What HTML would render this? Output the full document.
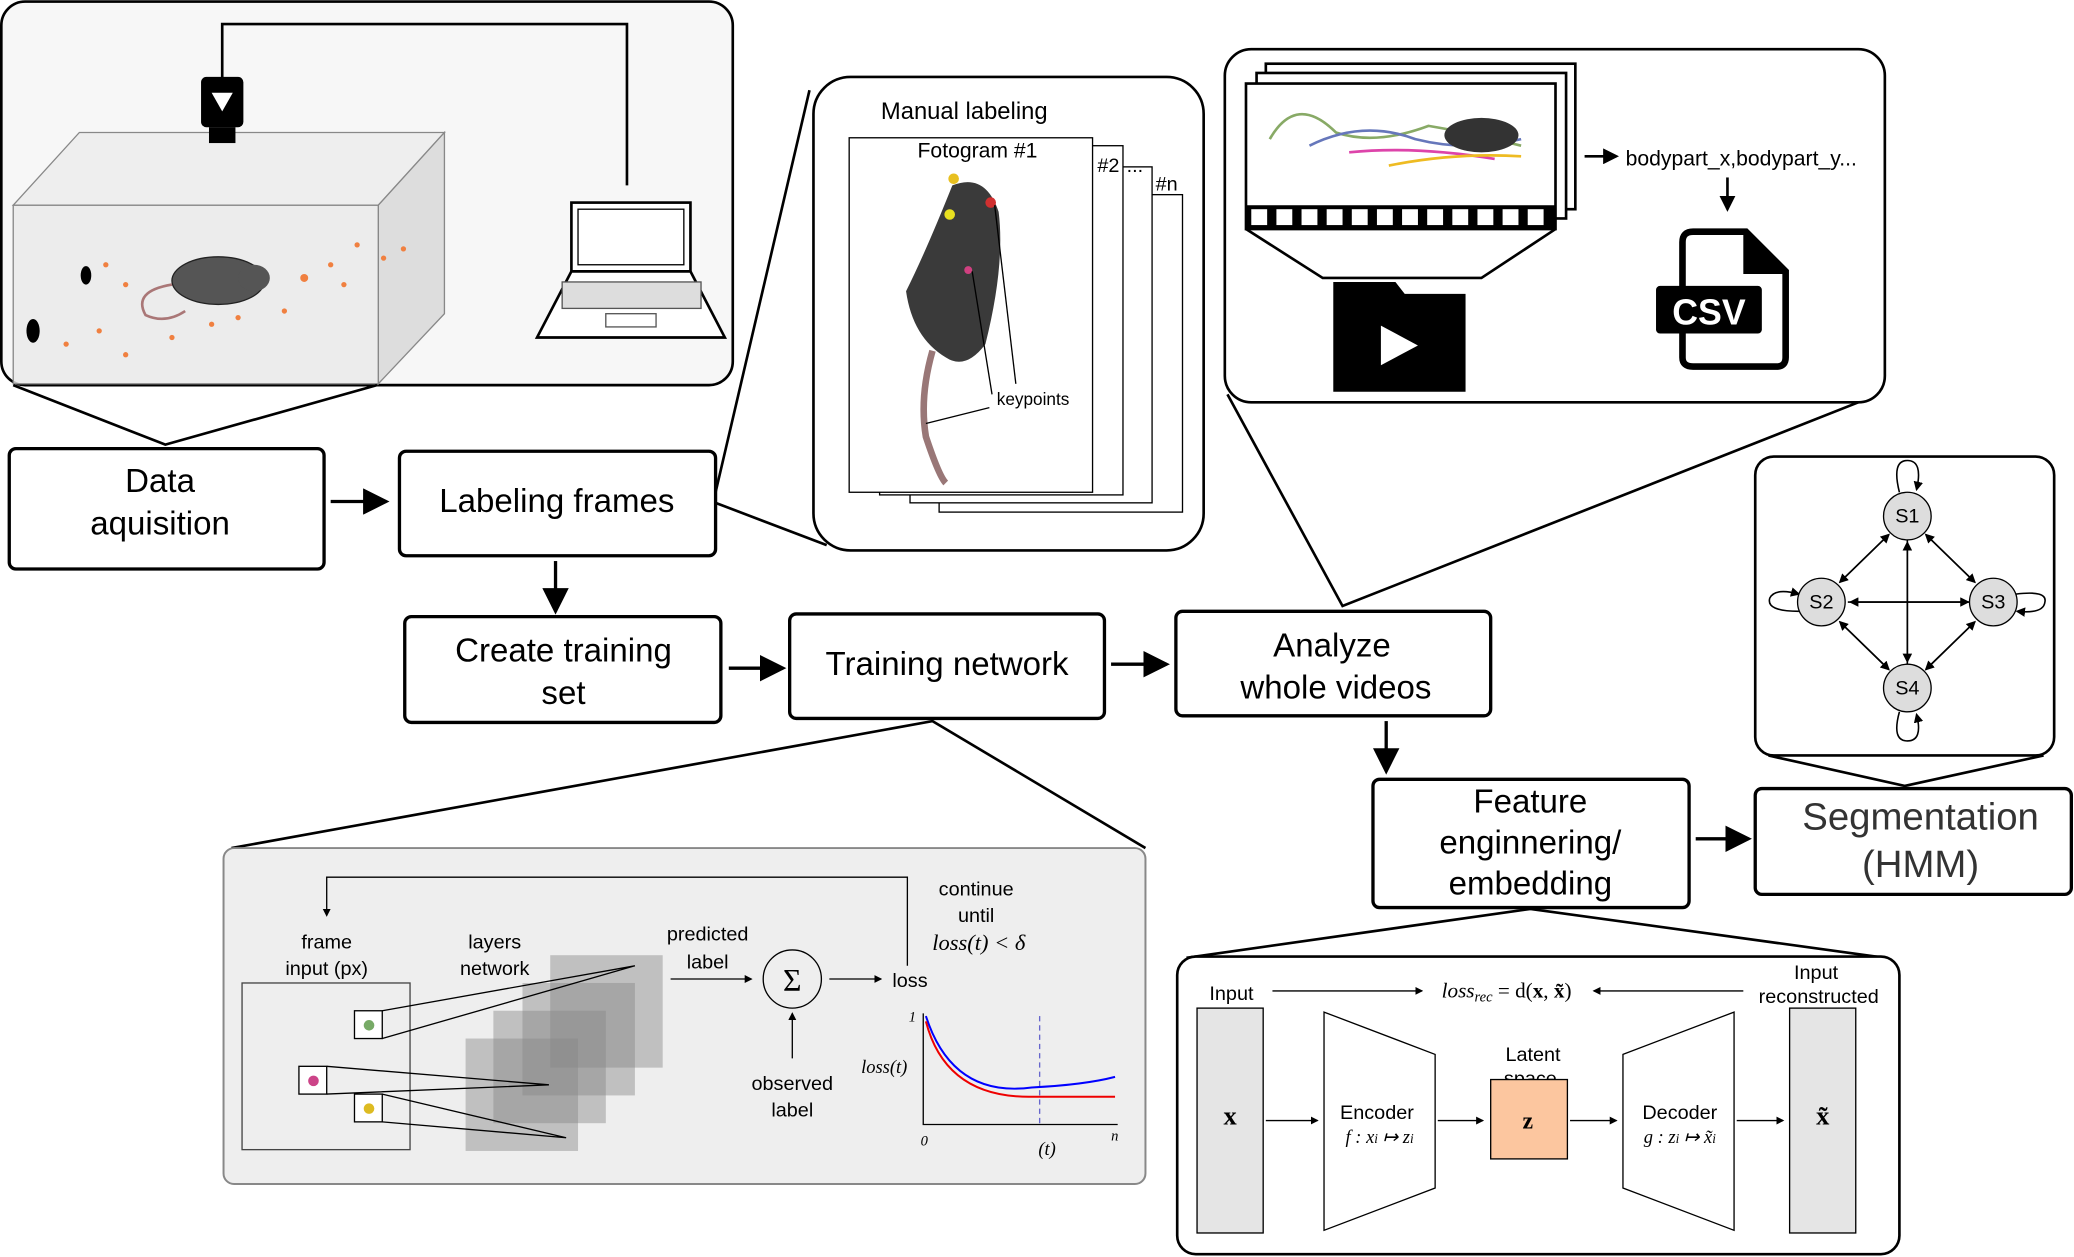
<!DOCTYPE html>
<html><head><meta charset="utf-8"><style>
html,body{margin:0;padding:0;background:#fff}
svg{display:block}
text{font-family:"Liberation Sans","DejaVu Sans",sans-serif}
.b{fill:#fff;stroke:#000;stroke-width:2.5}
.t{font-size:25px;text-anchor:middle}
.s{font-size:15px;text-anchor:middle}
.m{font-family:"Liberation Serif",serif;font-style:italic}
</style></head><body>
<svg width="2074" height="1257" viewBox="0 0 1568 950" xmlns="http://www.w3.org/2000/svg">
<defs><marker id="a" markerWidth="8" markerHeight="8" refX="7" refY="4" orient="auto"><path d="M0,0 L8,4 L0,8z"/></marker>
<marker id="sa" markerWidth="6" markerHeight="6" refX="5" refY="3" orient="auto"><path d="M0,0 L6,3 L0,6z"/></marker></defs>

<!-- top-left panel -->
<rect x="1" y="1" width="553" height="290" rx="18" fill="#f7f7f7" stroke="#000" stroke-width="2"/>
<polyline points="168,60 168,18 474,18 474,140" fill="none" stroke="#000" stroke-width="2"/>
<path d="M10,155 L60,100 L336,100 L286,155z" fill="#eee" stroke="#888"/>
<path d="M286,155 L336,100 L336,237 L286,290z" fill="#ddd" stroke="#888"/>
<rect x="10" y="155" width="276" height="135" fill="#e9e9e9" stroke="#888" fill-opacity="0.8"/>
<rect x="152" y="58" width="32" height="38" rx="4" fill="#000"/>
<path d="M160,70 L176,70 L168,84z" fill="#fff"/>
<rect x="158" y="96" width="20" height="12" fill="#000"/>
<ellipse cx="65" cy="208" rx="4" ry="7" fill="#000"/><ellipse cx="25" cy="250" rx="5" ry="9" fill="#000"/>
<g fill="#f08040"><circle cx="80" cy="200" r="2"/><circle cx="95" cy="215" r="2"/><circle cx="230" cy="210" r="3"/><circle cx="250" cy="200" r="2"/><circle cx="270" cy="185" r="2"/><circle cx="215" cy="235" r="2"/><circle cx="50" cy="260" r="2"/><circle cx="95" cy="268" r="2"/><circle cx="130" cy="255" r="2"/><circle cx="160" cy="245" r="2"/><circle cx="290" cy="195" r="2"/><circle cx="305" cy="188" r="2"/><circle cx="260" cy="215" r="2"/><circle cx="180" cy="240" r="2"/><circle cx="75" cy="250" r="2"/></g>
<ellipse cx="165" cy="212" rx="35" ry="18" fill="#555" stroke="#222"/>
<ellipse cx="192" cy="210" rx="12" ry="10" fill="#555"/>
<path d="M130,215 Q100,220 110,238 Q125,245 140,235" fill="none" stroke="#a77" stroke-width="2"/>
<rect x="432" y="153" width="90" height="52" fill="#fff" stroke="#000" stroke-width="2"/>
<rect x="437" y="158" width="80" height="42" fill="#fff" stroke="#000"/>
<path d="M432,205 L522,205 L548,255 L406,255z" fill="#fff" stroke="#000" stroke-width="2"/>
<rect x="425" y="213" width="105" height="20" fill="#ddd" stroke="#555"/>
<rect x="458" y="237" width="38" height="10" fill="none" stroke="#555"/>
<polyline points="10,291 125,336 285,291" fill="none" stroke="#000" stroke-width="2"/>

<!-- main boxes -->
<rect class="b" x="7" y="339" width="238" height="91" rx="5"/>
<text class="t" x="121" y="372">Data</text><text class="t" x="121" y="404">aquisition</text>
<line x1="250" y1="379" x2="292" y2="379" stroke="#000" stroke-width="2.5" marker-end="url(#a)"/>
<rect class="b" x="302" y="341" width="239" height="79" rx="5"/>
<text class="t" x="421" y="387">Labeling frames</text>
<line x1="420" y1="424" x2="420" y2="462" stroke="#000" stroke-width="2.5" marker-end="url(#a)"/>
<rect class="b" x="306" y="466" width="239" height="80" rx="5"/>
<text class="t" x="426" y="500">Create training</text><text class="t" x="426" y="532">set</text>
<line x1="551" y1="505" x2="592" y2="505" stroke="#000" stroke-width="2.5" marker-end="url(#a)"/>
<rect class="b" x="597" y="464" width="238" height="79" rx="5"/>
<text class="t" x="716" y="510">Training network</text>
<line x1="840" y1="502" x2="882" y2="502" stroke="#000" stroke-width="2.5" marker-end="url(#a)"/>
<rect class="b" x="889" y="462" width="238" height="79" rx="5"/>
<text class="t" x="1007" y="496">Analyze</text><text class="t" x="1010" y="528">whole videos</text>
<line x1="1048" y1="545" x2="1048" y2="583" stroke="#000" stroke-width="2.5" marker-end="url(#a)"/>
<rect class="b" x="1038" y="589" width="239" height="97" rx="5"/>
<text class="t" x="1157" y="614">Feature</text><text class="t" x="1157" y="645">enginnering/</text><text class="t" x="1157" y="676">embedding</text>
<line x1="1282" y1="634" x2="1322" y2="634" stroke="#000" stroke-width="2.5" marker-end="url(#a)"/>
<rect class="b" x="1327" y="596" width="239" height="80" rx="5"/>
<text class="t" x="1452" y="627" style="font-size:29px;fill:#333">Segmentation</text><text class="t" x="1452" y="663" style="font-size:29px;fill:#333">(HMM)</text>

<!-- manual labeling -->
<line x1="612" y1="68" x2="541" y2="372" stroke="#000" stroke-width="2"/>
<line x1="541" y1="380" x2="625" y2="412" stroke="#000" stroke-width="2"/>
<rect x="615" y="58" width="295" height="358" rx="28" fill="#fff" stroke="#000" stroke-width="2"/>
<text x="729" y="90" class="s" style="font-size:18px">Manual labeling</text>
<rect x="710" y="147" width="184" height="240" fill="#fff" stroke="#000"/>
<rect x="688" y="126" width="183" height="254" fill="#fff" stroke="#000"/>
<rect x="665" y="110" width="184" height="264" fill="#fff" stroke="#000"/>
<rect x="642" y="104" width="184" height="268" fill="#fff" stroke="#000"/>
<text x="739" y="119" class="s" style="font-size:16px">Fotogram #1</text>
<text x="838" y="130" class="s">#2</text><text x="858" y="130" class="s">...</text><text x="882" y="144" class="s">#n</text>
<path d="M720,140 Q745,130 755,160 Q760,200 745,260 Q730,280 715,270 Q690,255 685,220 Q700,190 720,140z" fill="#3a3a3a"/>
<path d="M705,265 Q695,300 700,330 Q710,360 715,365" fill="none" stroke="#977" stroke-width="5"/>
<circle cx="721" cy="135" r="4" fill="#e8c020"/><circle cx="749" cy="153" r="4" fill="#d03030"/><circle cx="718" cy="162" r="4" fill="#e8e020"/><circle cx="732" cy="204" r="3" fill="#d04080"/>
<polyline points="735,205 750,298" fill="none" stroke="#000"/>
<polyline points="752,155 768,290" fill="none" stroke="#000"/>
<polyline points="700,320 748,308" fill="none" stroke="#000"/>
<text x="781" y="306" class="s" style="font-size:13px">keypoints</text>

<!-- video panel -->
<polyline points="928,298 1015,458 1410,302" fill="none" stroke="#000" stroke-width="2"/>
<rect x="926" y="37" width="499" height="267" rx="20" fill="#fff" stroke="#000" stroke-width="2"/>
<rect x="957" y="48" width="234" height="110" fill="#fff" stroke="#000" stroke-width="2"/>
<rect x="950" y="55" width="234" height="110" fill="#fff" stroke="#000" stroke-width="2"/>
<rect x="942" y="63" width="234" height="110" fill="#fff" stroke="#000" stroke-width="2"/>
<rect x="942" y="155" width="234" height="18" fill="#000"/>
<g fill="#fff"><rect x="946" y="158" width="12" height="12"/><rect x="965" y="158" width="12" height="12"/><rect x="984" y="158" width="12" height="12"/><rect x="1003" y="158" width="12" height="12"/><rect x="1022" y="158" width="12" height="12"/><rect x="1041" y="158" width="12" height="12"/><rect x="1060" y="158" width="12" height="12"/><rect x="1079" y="158" width="12" height="12"/><rect x="1098" y="158" width="12" height="12"/><rect x="1117" y="158" width="12" height="12"/><rect x="1136" y="158" width="12" height="12"/><rect x="1155" y="158" width="12" height="12"/></g>
<path d="M960,105 Q980,70 1010,100 Q1040,110 1080,95 Q1110,100 1150,110" fill="none" stroke="#8a6" stroke-width="2"/>
<path d="M990,110 Q1030,90 1070,105 Q1110,115 1150,105" fill="none" stroke="#67b" stroke-width="2"/>
<path d="M1020,115 Q1070,110 1130,120" fill="none" stroke="#d4a" stroke-width="2"/>
<path d="M1050,125 Q1100,115 1150,118" fill="none" stroke="#eb2" stroke-width="2"/>
<ellipse cx="1120" cy="102" rx="28" ry="13" fill="#333"/>
<polyline points="942,173 1000,210 1120,210 1176,173" fill="none" stroke="#000" stroke-width="2"/>
<path d="M1008,213 L1055,213 L1062,222 L1108,222 L1108,296 L1008,296z" fill="#000"/>
<path d="M1044,246 L1072,261 L1044,276z" fill="#fff"/>
<line x1="1198" y1="118" x2="1222" y2="118" stroke="#000" stroke-width="2" marker-end="url(#sa)"/>
<text x="1229" y="125" style="font-size:16px">bodypart_x,bodypart_y...</text>
<line x1="1306" y1="134" x2="1306" y2="158" stroke="#000" stroke-width="2" marker-end="url(#sa)"/>
<path d="M1280,175 L1320,175 L1350,205 L1350,270 Q1350,277 1343,277 L1280,277 Q1272,277 1272,270 L1272,183 Q1272,175 1280,175z" fill="#fff" stroke="#000" stroke-width="5"/>
<path d="M1318,175 L1318,207 L1350,207z" fill="#000"/>
<rect x="1252" y="216" width="80" height="36" rx="3" fill="#000"/>
<text x="1292" y="245" class="s" style="font-size:27px;fill:#fff;font-weight:bold">CSV</text>

<!-- HMM panel -->
<polyline points="1337,571 1440,594 1545,571" fill="none" stroke="#000" stroke-width="2"/>
<rect x="1327" y="345" width="226" height="226" rx="14" fill="#fff" stroke="#000" stroke-width="2"/>
<g stroke="#000" stroke-width="1.2" fill="none" marker-end="url(#sa)">
<line x1="1442" y1="408" x2="1442" y2="500"/><line x1="1442" y1="502" x2="1442" y2="410"/>
<line x1="1397" y1="455" x2="1488" y2="455"/><line x1="1490" y1="455" x2="1399" y2="455"/>
<line x1="1428" y1="404" x2="1391" y2="440"/><line x1="1391" y1="440" x2="1428" y2="404"/>
<line x1="1456" y1="404" x2="1493" y2="440"/><line x1="1493" y1="440" x2="1456" y2="404"/>
<line x1="1391" y1="470" x2="1428" y2="506"/><line x1="1428" y1="506" x2="1391" y2="470"/>
<line x1="1493" y1="470" x2="1456" y2="506"/><line x1="1456" y1="506" x2="1493" y2="470"/>
<path d="M1436,372 Q1430,348 1442,348 Q1454,348 1449,370"/>
<path d="M1436,538 Q1430,560 1442,560 Q1454,560 1449,540"/>
<path d="M1360,462 Q1335,462 1338,452 Q1342,444 1360,449"/>
<path d="M1524,449 Q1548,446 1546,455 Q1545,464 1525,462"/>
</g>
<g fill="#ddd" stroke="#000"><circle cx="1442" cy="390" r="18"/><circle cx="1377" cy="455" r="18"/><circle cx="1507" cy="455" r="18"/><circle cx="1442" cy="520" r="18"/></g>
<g class="s" style="font-family:'Liberation Serif',serif;font-size:15px"><text x="1442" y="395">S1</text><text x="1377" y="460">S2</text><text x="1507" y="460">S3</text><text x="1442" y="525">S4</text></g>

<!-- training panel -->
<polyline points="175,641 705,545 866,641" fill="none" stroke="#000" stroke-width="2"/>
<rect x="169" y="641" width="697" height="254" rx="8" fill="#eee" stroke="#888" stroke-width="1.5"/>
<polyline points="686,730 686,663 247,663 247,692" fill="none" stroke="#000" marker-end="url(#sa)"/>
<text x="738" y="677" class="s">continue</text><text x="738" y="697" class="s">until</text>
<text x="740" y="718" class="s m" style="font-size:17px">loss(t) &lt; δ</text>
<text x="247" y="717" class="s">frame</text><text x="247" y="737" class="s">input (px)</text>
<text x="374" y="717" class="s">layers</text><text x="374" y="737" class="s">network</text>
<text x="535" y="711" class="s">predicted</text><text x="535" y="732" class="s">label</text>
<rect x="183" y="743" width="127" height="126" fill="none" stroke="#444"/>
<g fill="#888" fill-opacity="0.45"><rect x="352" y="785" width="85" height="85"/><rect x="373" y="764" width="85" height="85"/><rect x="395" y="743" width="85" height="85"/><rect x="416" y="722" width="85" height="85"/></g>
<g fill="#fff" stroke="#000"><rect x="268" y="764" width="21" height="21"/><rect x="226" y="806" width="21" height="21"/><rect x="268" y="827" width="21" height="21"/></g>
<circle cx="279" cy="775" r="4" fill="#7a6"/><circle cx="237" cy="817" r="4" fill="#c48"/><circle cx="279" cy="838" r="4" fill="#db2"/>
<g stroke="#000" fill="none"><path d="M289,764 L480,730 L289,785"/><path d="M247,806 L415,820 L247,827"/><path d="M289,827 L428,860 L289,848"/></g>
<line x1="507" y1="740" x2="568" y2="740" stroke="#000" marker-end="url(#sa)"/>
<circle cx="599" cy="740" r="22" fill="none" stroke="#000"/><text x="599" y="749" class="s" style="font-size:24px;font-family:'Liberation Serif',serif">Σ</text>
<line x1="627" y1="740" x2="666" y2="740" stroke="#000" marker-end="url(#sa)"/>
<text x="688" y="746" class="s">loss</text>
<line x1="599" y1="800" x2="599" y2="766" stroke="#000" marker-end="url(#sa)"/>
<text x="599" y="824" class="s">observed</text><text x="599" y="844" class="s">label</text>
<polyline points="698,766 698,850 845,850" fill="none" stroke="#000"/>
<text x="687" y="772" style="font-size:11px" class="m">1</text><text x="696" y="866" style="font-size:11px" class="m">0</text><text x="840" y="862" class="m" style="font-size:11px">n</text>
<text x="651" y="811" class="m" style="font-size:14px">loss(t)</text><text x="785" y="873" class="m" style="font-size:14px">(t)</text>
<line x1="786" y1="768" x2="786" y2="850" stroke="#66c" stroke-dasharray="4,3"/>
<path d="M700,768 Q720,830 780,822 Q820,820 843,814" fill="none" stroke="#00f" stroke-width="1.5"/>
<path d="M700,772 Q715,830 780,829 L843,829" fill="none" stroke="#e00" stroke-width="1.5"/>

<!-- autoencoder panel -->
<polyline points="897,724 1157,687 1425,724" fill="none" stroke="#000" stroke-width="2"/>
<rect x="890" y="723" width="546" height="225" rx="14" fill="#fff" stroke="#000" stroke-width="2"/>
<text x="931" y="756" class="s">Input</text>
<text x="1373" y="740" class="s">Input</text><text x="1375" y="758" class="s">reconstructed</text>
<line x1="962" y1="749" x2="1075" y2="749" stroke="#000" marker-end="url(#sa)"/>
<line x1="1318" y1="749" x2="1205" y2="749" stroke="#000" marker-end="url(#sa)"/>
<text x="1139" y="754" class="s m" style="font-size:16px">loss<tspan font-size="11" dy="3">rec</tspan><tspan dy="-3" style="font-style:normal"> = d(<tspan font-weight="bold">x</tspan>, <tspan font-weight="bold">x̃</tspan>)</tspan></text>
<rect x="905" y="762" width="50" height="170" fill="#e5e5e5" stroke="#000"/>
<text x="930" y="850" class="s" style="font-family:'Liberation Serif',serif;font-weight:bold;font-size:20px">x</text>
<line x1="957" y1="847" x2="996" y2="847" stroke="#000" marker-end="url(#sa)"/>
<path d="M1001,765 L1085,797 L1085,898 L1001,930z" fill="#fff" stroke="#000"/>
<text x="1041" y="846" class="s">Encoder</text>
<text x="1043" y="864" class="s m" style="font-size:14px">f : x<tspan font-size="10">i</tspan> ↦ z<tspan font-size="10">i</tspan></text>
<line x1="1087" y1="847" x2="1121" y2="847" stroke="#000" marker-end="url(#sa)"/>
<text x="1159" y="802" class="s">Latent</text><text x="1157" y="820" class="s">space</text>
<rect x="1127" y="816" width="58" height="60" fill="#fcc69f" stroke="#000"/>
<text x="1155" y="853" class="s" style="font-family:'Liberation Serif',serif;font-weight:bold;font-size:18px">z</text>
<line x1="1187" y1="847" x2="1222" y2="847" stroke="#000" marker-end="url(#sa)"/>
<path d="M1227,797 L1311,765 L1311,930 L1227,898z" fill="#fff" stroke="#000"/>
<text x="1270" y="846" class="s">Decoder</text>
<text x="1270" y="864" class="s m" style="font-size:14px">g : z<tspan font-size="10">i</tspan> ↦ x̃<tspan font-size="10">i</tspan></text>
<line x1="1313" y1="847" x2="1348" y2="847" stroke="#000" marker-end="url(#sa)"/>
<rect x="1353" y="762" width="50" height="170" fill="#e5e5e5" stroke="#000"/>
<text x="1378" y="850" class="s" style="font-family:'Liberation Serif',serif;font-weight:bold;font-size:20px">x̃</text>
</svg>
</body></html>
